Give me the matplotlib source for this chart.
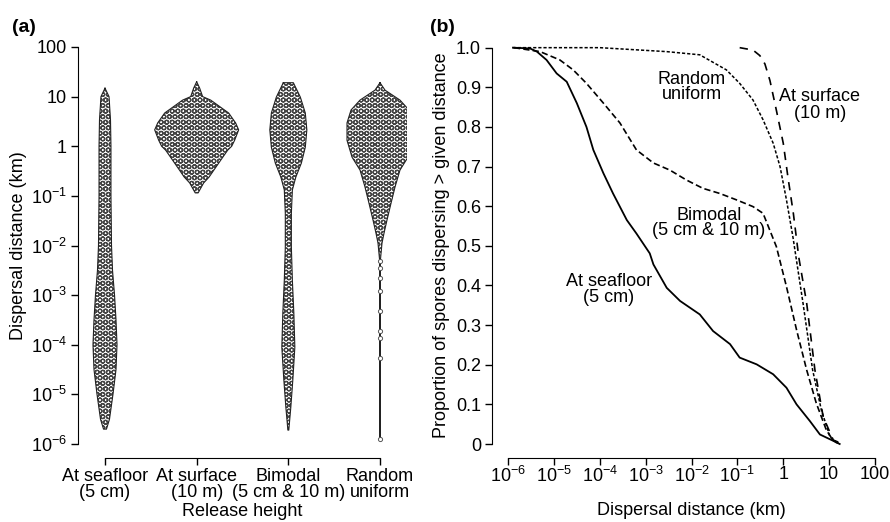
import numpy as np
import matplotlib
matplotlib.use('Agg')
import matplotlib.pyplot as plt
from matplotlib.ticker import FixedLocator, NullLocator

plt.rcParams['font.family'] = ['Liberation Sans', 'DejaVu Sans']
plt.rcParams['mathtext.fontset'] = 'custom'
plt.rcParams['mathtext.rm'] = 'Liberation Sans'
plt.rcParams['mathtext.default'] = 'regular'
plt.rcParams['hatch.linewidth'] = 0.9
plt.rcParams['lines.scale_dashes'] = False

# (a) violin shapes: log10(km) and half width (category units)
groups = ['At seafloor\n(5 cm)', 'At surface\n(10 m)', 'Bimodal\n(5 cm & 10 m)', 'Random\nuniform']
seafloor_log = [1.17, 1.0, 0.53, 0.0, -1.0, -2.0, -2.5, -3.0, -3.5, -4.0, -4.5, -5.0, -5.5, -5.7]
seafloor_w = [0.0, 0.044, 0.060, 0.065, 0.065, 0.071, 0.082, 0.104, 0.120, 0.131, 0.120, 0.087, 0.049, 0.016]
surface_log = [1.30, 1.17, 1.0, 0.93, 0.67, 0.47, 0.33, 0.12, 0.0, -0.08, -0.34, -0.62, -0.74, -0.94]
surface_w = [0.0, 0.033, 0.065, 0.153, 0.349, 0.425, 0.458, 0.414, 0.382, 0.338, 0.240, 0.136, 0.076, 0.016]
bimodal_log = [1.28, 0.99, 0.67, 0.33, -0.02, -0.34, -0.62, -0.88, -1.35, -2.03, -2.70, -3.36, -4.05, -4.71, -5.26, -5.72]
bimodal_w = [0.055, 0.131, 0.185, 0.202, 0.185, 0.142, 0.082, 0.044, 0.033, 0.033, 0.044, 0.060, 0.071, 0.049, 0.027, 0.005]
uniform_log = [1.28, 1.13, 0.93, 0.73, 0.47, 0.12, -0.22, -0.48, -0.82, -1.15, -1.49, -1.75, -1.95, -2.3, -5.9]
uniform_w = [0.0, 0.055, 0.218, 0.316, 0.360, 0.360, 0.305, 0.218, 0.164, 0.120, 0.076, 0.044, 0.022, 0.004, 0.004]
# isolated points on the thin tail of the random uniform group
uniform_tail = [-2.31, -2.46, -2.66, -2.92, -3.32, -3.73, -3.87, -4.27, -5.90]

# (b) proportion dispersing beyond a distance, log10(km)
seafloor_x = [-5.89, -5.52, -5.37, -5.16, -4.94, -4.72, -4.50, -4.29, -4.14, -3.92, -3.71, -3.41, -3.20, -2.91,
              -2.83, -2.54, -2.25, -1.82, -1.53, -1.16, -0.95, -0.58, -0.22, 0.07, 0.29, 0.58, 0.80, 1.09, 1.23]
seafloor_p = [1.0, 0.998, 0.99, 0.969, 0.935, 0.914, 0.86, 0.80, 0.742, 0.683, 0.632, 0.565, 0.531, 0.481,
              0.453, 0.394, 0.361, 0.327, 0.285, 0.252, 0.218, 0.201, 0.176, 0.142, 0.100, 0.058, 0.024, 0.008, 0.0]
bimodal_x = [-5.87, -5.30, -4.87, -4.58, -4.29, -3.92, -3.56, -3.20, -2.83, -2.47, -2.11, -1.75, -1.38, -1.02,
             -0.66, -0.44, -0.15, 0.07, 0.29, 0.51, 0.72, 0.94, 1.08, 1.23]
bimodal_p = [1.0, 0.99, 0.969, 0.944, 0.910, 0.86, 0.81, 0.742, 0.709, 0.691, 0.666, 0.645, 0.632, 0.616,
             0.599, 0.582, 0.498, 0.397, 0.288, 0.187, 0.103, 0.035, 0.01, 0.0]
uniform_x = [-5.90, -4.0, -2.54, -1.82, -1.24, -0.95, -0.66, -0.44, -0.22, -0.07, 0.07, 0.21, 0.43, 0.64,
             0.83, 1.02, 1.19]
uniform_p = [1.0, 1.0, 0.99, 0.982, 0.944, 0.910, 0.868, 0.818, 0.759, 0.70, 0.616, 0.523, 0.356, 0.187,
             0.086, 0.018, 0.0]
surface_x = [-0.95, -0.66, -0.51, -0.40, -0.29, -0.15, 0.0, 0.10, 0.22, 0.34, 0.51, 0.69, 0.87, 1.09, 1.30]
surface_p = [1.0, 0.994, 0.98, 0.959, 0.917, 0.842, 0.759, 0.675, 0.582, 0.47, 0.356, 0.187, 0.069, 0.01, 0.0]

fs = 13
fig = plt.figure(figsize=(8.9, 5.22), dpi=100)

# ---------- panel (a)
ax1 = fig.add_axes([78 / 890, 64 / 522, 329 / 890, 425 / 522])
shapes = [(seafloor_log, seafloor_w), (surface_log, surface_w),
          (bimodal_log, bimodal_w), (uniform_log, uniform_w)]
for i, (lg, w) in enumerate(shapes):
    pos = i + 1
    y = 10 ** np.array(lg)
    w = np.array(w)
    ax1.fill_betweenx(y, pos - w, pos + w, facecolor='white', edgecolor='#444444',
                      hatch='OOO', linewidth=0)
    ox = np.concatenate([pos - w, (pos + w)[::-1], [pos - w[0]]])
    oy = np.concatenate([y, y[::-1], [y[0]]])
    ax1.plot(ox, oy, color='#222222', lw=0.8)
ax1.scatter(np.full(len(uniform_tail), 4), 10 ** np.array(uniform_tail), s=9,
            facecolor='white', edgecolor='#555555', linewidth=0.7, zorder=3)

ax1.set_yscale('log')
ax1.set_ylim(10 ** -6.282, 10 ** 2.282)
ax1.set_xlim(0.7055, 4.2945)
ax1.spines['top'].set_visible(False)
ax1.spines['right'].set_visible(False)
ax1.spines['left'].set_bounds(1e-6, 100)
ax1.spines['bottom'].set_bounds(1, 4)
ytk = [1e-6, 1e-5, 1e-4, 1e-3, 1e-2, 1e-1, 1, 10, 100]
ytl = ['$10^{-6}$', '$10^{-5}$', '$10^{-4}$', '$10^{-3}$', '$10^{-2}$', '$10^{-1}$', '1', '10', '100']
ax1.yaxis.set_major_locator(FixedLocator(ytk))
ax1.yaxis.set_minor_locator(NullLocator())
ax1.set_yticklabels(ytl)
ax1.set_xticks([1, 2, 3, 4])
ax1.set_xticklabels(groups, linespacing=0.92)
ax1.tick_params(labelsize=fs, length=5, width=1, pad=3)
ax1.tick_params(axis='x', pad=2)
ax1.set_ylabel('Dispersal distance (km)', fontsize=fs, labelpad=3)
ax1.set_xlabel('Release height', fontsize=fs, labelpad=2)

# ---------- panel (b)
ax2 = fig.add_axes([492 / 890, 64 / 522, 398 / 890, 425 / 522])
ax2.plot(10 ** np.array(seafloor_x), seafloor_p, color='black', lw=1.3)
ax2.plot(10 ** np.array(bimodal_x), bimodal_p, color='black', lw=1.2, dashes=(4.5, 2.3))
ax2.plot(10 ** np.array(uniform_x), uniform_p, color='black', lw=1.1, dashes=(2.3, 1.4))
ax2.plot(10 ** np.array(surface_x), surface_p, color='black', lw=1.2, dashes=(6, 5))
ax2.set_xscale('log')
ax2.set_xlim(10 ** -6.349, 10 ** 2.327)
ax2.set_ylim(-0.0353, 1.037)
ax2.spines['top'].set_visible(False)
ax2.spines['right'].set_visible(False)
ax2.spines['left'].set_bounds(0, 1)
ax2.spines['bottom'].set_bounds(1e-6, 100)
ax2.xaxis.set_major_locator(FixedLocator(ytk))
ax2.xaxis.set_minor_locator(NullLocator())
ax2.set_xticklabels(ytl)
yb = [0, 0.1, 0.2, 0.3, 0.4, 0.5, 0.6, 0.7, 0.8, 0.9, 1.0]
ax2.set_yticks(yb)
ax2.set_yticklabels(['0'] + ['%.1f' % v for v in yb[1:]])
ax2.tick_params(labelsize=fs, length=5, width=1, pad=3)
ax2.tick_params(axis='x', pad=1)
ax2.set_ylabel('Proportion of spores dispersing > given distance', fontsize=fs, labelpad=4)
ax2.set_xlabel('Dispersal distance (km)', fontsize=fs, labelpad=11)

ax2.text(10 ** -1.99, 0.90, 'Random\nuniform', ha='center', va='center', fontsize=fs, linespacing=0.85)
ax2.text(10 ** 0.8, 0.855, 'At surface\n(10 m)', ha='center', va='center', fontsize=fs, linespacing=0.95)
ax2.text(10 ** -1.62, 0.558, 'Bimodal\n(5 cm & 10 m)', ha='center', va='center', fontsize=fs, linespacing=0.8)
ax2.text(10 ** -3.8, 0.39, 'At seafloor\n(5 cm)', ha='center', va='center', fontsize=fs, linespacing=0.95)

fig.text(12 / 890, 1 - 27 / 522, '(a)', fontsize=14, fontweight='bold', va='center')
fig.text(430 / 890, 1 - 27 / 522, '(b)', fontsize=14, fontweight='bold', va='center')

fig.savefig('out.png', dpi=100)
